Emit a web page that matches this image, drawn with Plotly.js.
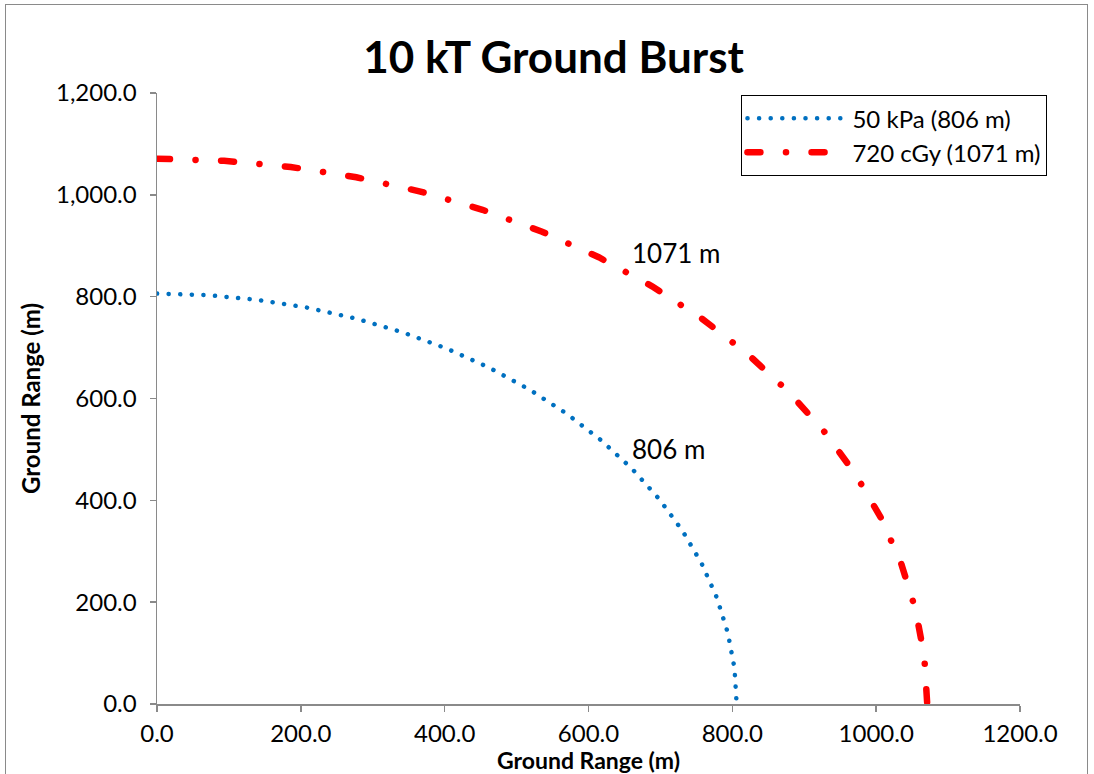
<!DOCTYPE html>
<html>
<head>
<meta charset="utf-8">
<script src="https://cdn.plot.ly/plotly-3.0.1.min.js"></script>
<style>
  html, body { margin: 0; padding: 0; background: #fff; }
  #wrap { position: relative; width: 1094px; height: 774px; overflow: hidden; }
  #frame { position: absolute; left: 5px; top: 4px; width: 1083px; height: 800px; border: 1.5px solid #8a8a8a; box-sizing: border-box; pointer-events: none; }
  #chart { position: absolute; left: 0; top: 0; width: 1094px; height: 774px; }
  .scatterlayer path.js-line, .legendlines path { stroke-linecap: round; }
</style>
</head>
<body>
<div id="wrap">
  <div id="chart"></div>
  <div id="frame"></div>
</div>
<script>
// 50 kPa overpressure ring (806 m)
const blastX = [0, 70.3, 139.9, 208.6, 275.7, 340.6, 403.0, 462.3, 518.1, 569.9, 617.4, 660.3, 698.0, 730.5, 757.4, 778.5, 793.7, 803.0, 806.0];
const blastY = [806.0, 803.0, 793.7, 778.5, 757.4, 730.5, 698.0, 660.3, 617.4, 569.9, 518.1, 462.3, 403.0, 340.6, 275.7, 208.6, 139.9, 70.3, 0];
// 720 cGy radiation ring (1071 m)
const radX = [0, 93.4, 185.9, 277.2, 366.3, 452.6, 535.5, 614.3, 688.4, 757.3, 820.4, 877.4, 927.5, 970.6, 1006.4, 1034.5, 1054.7, 1066.9, 1071.0];
const radY = [1071.0, 1066.9, 1054.7, 1034.5, 1006.4, 970.6, 927.5, 877.4, 820.4, 757.3, 688.4, 614.3, 535.5, 452.6, 366.3, 277.2, 185.9, 93.4, 0];
const seriesNames = ["50 kPa (806 m)", "720 cGy (1071 m)"];
const labelText = ["806 m", "1071 m"];
const labelX = [658, 658];
const labelY = [500, 886];
const xTicks = [0, 200, 400, 600, 800, 1000, 1200];
const yTicks = [0, 200, 400, 600, 800, 1000, 1200];

const FONT = "Lato, 'Open Sans', sans-serif";

const traces = [
  {
    x: blastX, y: blastY, mode: "lines", name: seriesNames[0],
    line: { color: "#0070C0", width: 4.5, dash: "0.1px,11.5px" },
    hoverinfo: "skip"
  },
  {
    x: radX, y: radY, mode: "lines", name: seriesNames[1],
    line: { color: "#FF0000", width: 6.5, dash: "13px,25.5px,0.1px,25.5px" },
    hoverinfo: "skip"
  }
];

const layout = {
  width: 1094, height: 774,
  margin: { l: 157, r: 74, t: 93, b: 70 },
  paper_bgcolor: "rgba(0,0,0,0)",
  plot_bgcolor: "rgba(0,0,0,0)",
  font: { family: FONT, color: "#000" },
  title: {
    text: "<b>10 kT Ground Burst</b>",
    font: { family: FONT, size: 44, color: "#000" },
    x: 0.506, xref: "container", xanchor: "center",
    y: 0.926, yref: "container", yanchor: "middle"
  },
  xaxis: {
    range: [0, 1200], tickvals: xTicks, tickformat: ".1f",
    showgrid: false, zeroline: false,
    showline: true, linecolor: "#8a8a8a", linewidth: 1.5,
    ticks: "outside", ticklen: 6, tickcolor: "#8a8a8a", tickwidth: 1.5,
    ticklabelstandoff: 2,
    tickfont: { family: FONT, size: 24, color: "#000" },
    title: { text: "<b>Ground Range (m)</b>", font: { family: FONT, size: 23, color: "#000" }, standoff: 4 },
    fixedrange: true
  },
  yaxis: {
    range: [0, 1200], tickvals: yTicks, tickformat: ",.1f",
    showgrid: false, zeroline: false,
    showline: true, linecolor: "#8a8a8a", linewidth: 1.5,
    ticks: "outside", ticklen: 6, tickcolor: "#8a8a8a", tickwidth: 1.5,
    ticklabelstandoff: 8,
    tickfont: { family: FONT, size: 24, color: "#000" },
    title: { text: "<b>Ground Range (m)</b>", font: { family: FONT, size: 24, color: "#000" }, standoff: 8 },
    fixedrange: true
  },
  showlegend: true,
  legend: {
    x: 0.677, y: 0.997, xanchor: "left", yanchor: "top",
    bgcolor: "#fff", bordercolor: "#000", borderwidth: 1.2,
    font: { family: FONT, size: 24, color: "#000" },
    tracegroupgap: 0, itemwidth: 100
  },
  annotations: labelText.map((t, i) => ({
    x: labelX[i], y: labelY[i], xref: "x", yref: "y",
    text: t, showarrow: false, xanchor: "left", yanchor: "middle",
    font: { family: FONT, size: 26, color: "#000" }
  }))
};

Plotly.newPlot("chart", traces, layout, { displayModeBar: false, staticPlot: true });
</script>
</body>
</html>
